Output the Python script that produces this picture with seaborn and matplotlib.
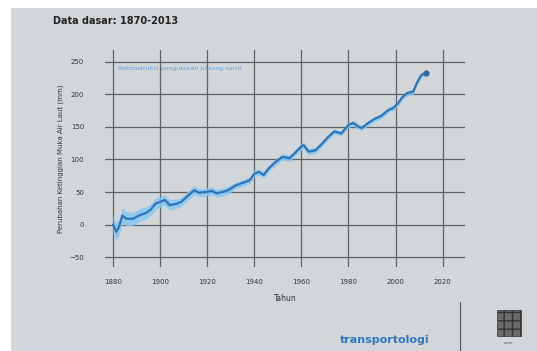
import numpy as np
import pandas as pd
import matplotlib
matplotlib.use("Agg")
import matplotlib.pyplot as plt
import seaborn as sns
from matplotlib.patches import Rectangle

# data perkiraan dari gambar (mm)
tahun = [1880, 1881.4, 1882.5, 1884, 1885.6, 1888.5, 1891, 1894, 1896, 1898,
         1900, 1902, 1904, 1907, 1909, 1912, 1914.5, 1916.6, 1919.4, 1922,
         1924, 1926.5, 1929, 1932, 1935, 1938, 1940, 1942, 1944, 1946,
         1949, 1952, 1955, 1957, 1960, 1961, 1963, 1966, 1969, 1971.5,
         1974, 1977, 1980, 1982, 1984, 1985.6, 1988, 1991, 1994, 1997,
         1999, 2001, 2003, 2005, 2007.5, 2009, 2011, 2013]
muka_laut = [0, -11, -4, 14, 9, 9, 14, 18, 23, 32,
             35, 38, 30, 32, 35, 45, 53, 49, 50, 52,
             48, 50, 53, 60, 64, 68, 78, 81, 76, 86,
             96, 104, 102, 109, 120, 122, 112, 114, 125, 135,
             143, 140, 153, 156, 151, 148, 155, 162, 167, 176,
             179, 186, 196, 202, 204, 217, 230, 232]
galat = [14, 14, 13, 12, 11, 10, 10, 9, 9, 9,
         8, 8, 8, 7, 7, 7, 7, 6, 6, 6,
         6, 6, 6, 5, 5, 5, 5, 5, 5, 5,
         5, 5, 5, 5, 5, 5, 5, 5, 4, 4,
         4, 4, 4, 4, 4, 4, 4, 4, 4, 4,
         4, 4, 4, 4, 4, 4, 4, 4]
xticks = [1880, 1900, 1920, 1940, 1960, 1980, 2000, 2020]
yticks = [-50, 0, 50, 100, 150, 200, 250]

df = pd.DataFrame({"Tahun": tahun, "mm": muka_laut, "galat": galat})

bg = "#d3d6d9"
sns.set_theme(style="white")
plt.rcParams['font.family'] = ['DejaVu Sans']

fig = plt.figure(figsize=(5.37, 3.51), dpi=100, facecolor="white")
fig.patches.append(Rectangle((11/537, 0), 1, 1 - 8/351, transform=fig.transFigure,
                             facecolor=bg, edgecolor="none", zorder=-10))

ax = fig.add_axes([105/537, (351-267)/351, 360/537, 217/351])
ax.set_facecolor("none")

ax.fill_between(df["Tahun"], df["mm"] - df["galat"], df["mm"] + df["galat"],
                color="#86c6f2", alpha=0.85, lw=0, zorder=2)
sns.lineplot(data=df, x="Tahun", y="mm", ax=ax, color="#2e74b8", lw=1.6, zorder=3)
ax.plot(tahun[-1], muka_laut[-1], "o", color="#2f6a9c", ms=3.5, zorder=4)

ax.set_xlim(1876.6, 2029.5)
ax.set_ylim(-65, 268)
ax.set_xticks(xticks)
ax.set_yticks(yticks)
ax.grid(True, color="#5d6266", lw=0.9)
for s in ax.spines.values():
    s.set_visible(False)
ax.tick_params(axis="both", length=0, labelsize=5, colors="#333333")
ax.tick_params(axis="y", pad=15)
ax.tick_params(axis="x", pad=9)

ax.set_xlabel("Tahun", fontsize=5.5, color="#333333", labelpad=6)
ax.set_ylabel("Perubahan Ketinggian Muka Air Laut (mm)", fontsize=5, color="#333333", labelpad=4)

ax.text(1882, 240, "Rekonstruksi pengukuran pasang surut", fontsize=4.5,
        color="#5fa0d8", va="center")

fig.text(53/537, 1 - 21/351, "Data dasar: 1870-2013", fontsize=7,
         fontweight="bold", color="#222222", va="center")

fig.text(385/537, 1 - 340/351, "transportologi", fontsize=8, fontweight="bold",
         color="#2f78c0", ha="center", va="center")
fig.lines.append(plt.Line2D([460/537, 460/537], [0, 1 - 302/351],
                            transform=fig.transFigure, color="#555555", lw=0.8))
fig.patches.append(Rectangle((497/537, 1 - 336/351), 24/537, 26/351,
                             transform=fig.transFigure, facecolor="#6a6a6a",
                             edgecolor="#333333", hatch="++", lw=0.5))
fig.text(509/537, 1 - 343/351, "scan", fontsize=3, color="#555555", ha="center", va="center")

fig.savefig("out.png", dpi=100, facecolor=fig.get_facecolor())
